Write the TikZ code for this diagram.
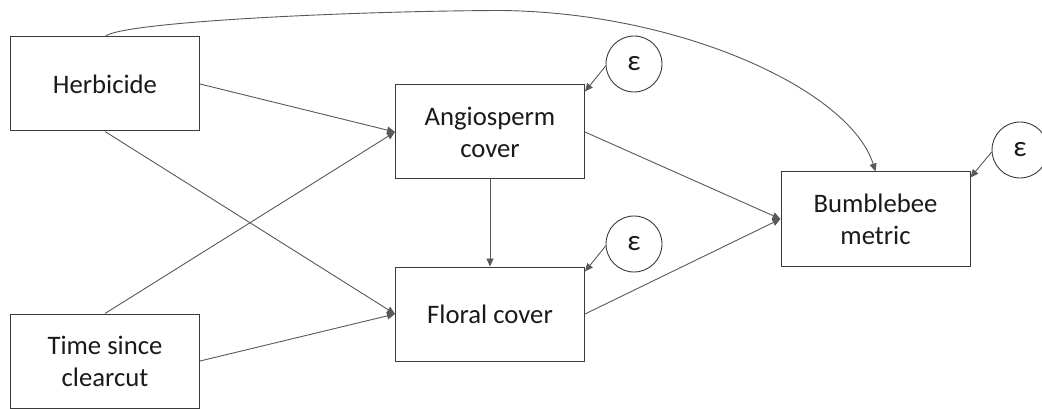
\documentclass[tikz,border=0pt]{standalone}
\usepackage{fontspec}
\setmainfont{Carlito}
\usetikzlibrary{arrows.meta}
\definecolor{linegray}{HTML}{595959}
\definecolor{boxgray}{HTML}{3A3A3A}
\definecolor{txt}{HTML}{1A1A1A}
\begin{document}
\begin{tikzpicture}[x=1pt,y=-1pt,
  box/.style={draw=boxgray, line width=1pt, minimum width=189pt, minimum height=94pt,
    inner sep=0pt, align=center, text=txt, font=\fontsize{26.7}{32}\selectfont},
  err/.style={circle, draw=boxgray, line width=0.9pt, minimum size=56pt, inner sep=0pt,
    text=txt, font=\fontsize{29}{32}\selectfont},
  conn/.style={draw=linegray, line width=0.9pt, -{Triangle[length=8pt,width=7pt]}}
]
\useasboundingbox[fill=white] (0,0) rectangle (1042,409);

\node[box] (herb) at (105,84) {Herbicide};
\node[box] (time) at (105,361) {Time since\\clearcut};
\node[box] (ang) at (490,132) {Angiosperm\\cover};
\node[box] (flo) at (490,314) {Floral cover};
\node[box] (bee) at (875.5,219) {Bumblebee\\metric};

\node[err] (e1) at (634,64) {ε};
\node[err] (e2) at (634,244) {ε};
\node[err] (e3) at (1020,150) {ε};

\coordinate (peak) at (500,10.5);

\draw[conn] (herb.east) -- (ang.west);
\draw[conn] (herb.south) -- (flo.west);
\draw[conn] (time.north) -- (ang.west);
\draw[conn] (time.east) -- (flo.west);
\draw[conn] (ang.south) -- (flo.north);
\draw[conn] (ang.east) -- (bee.west);
\draw[conn] (flo.east) -- (bee.west);

\draw[conn] (herb.north) .. controls (120,22) and (350,11) .. (peak)
  .. controls (680,12) and (850,90) .. (bee.north);

\draw[conn] (e1.184) -- ([yshift=-7pt]ang.north east);
\draw[conn] (e2.184) -- ([yshift=-5pt]flo.north east);
\draw[conn] (e3.184) -- ([yshift=-6pt]bee.north east);
\end{tikzpicture}
\end{document}
